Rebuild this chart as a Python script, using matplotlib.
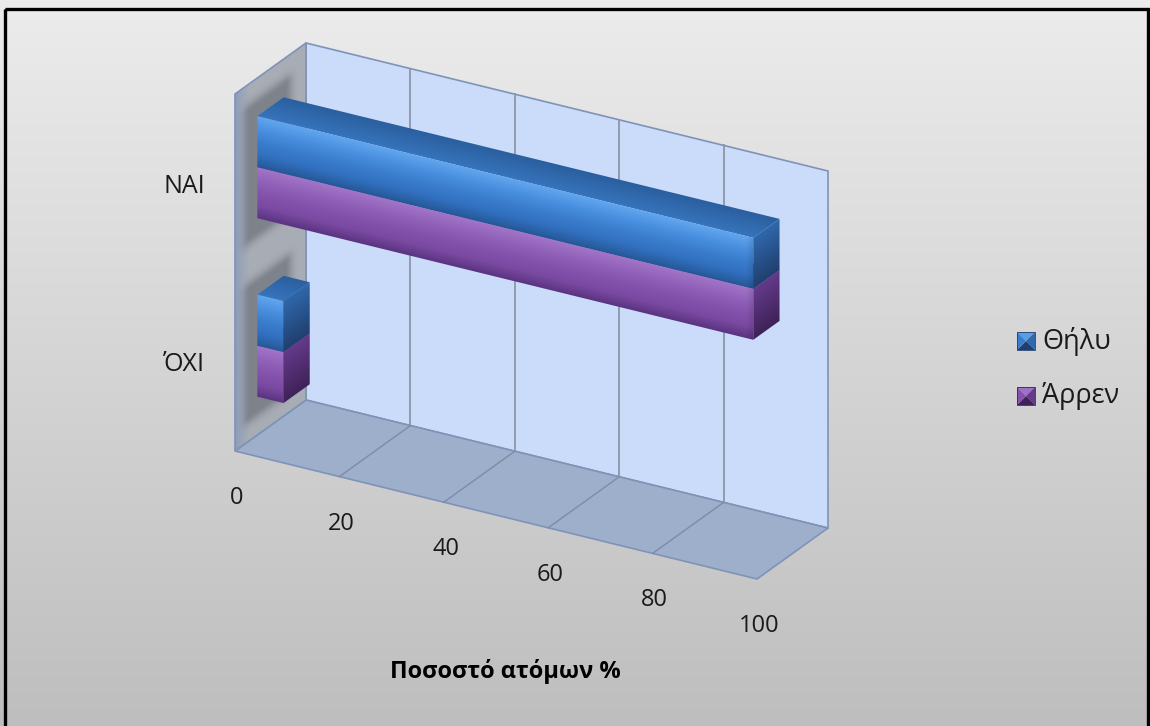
import matplotlib
matplotlib.use('Agg')
import matplotlib.pyplot as plt
from matplotlib.colors import LinearSegmentedColormap, to_rgb
from matplotlib.patches import Polygon, Rectangle
import numpy as np

plt.rcParams['font.family'] = ['Open Sans', 'DejaVu Sans']

categories = ['ΌΧΙ', 'ΝΑΙ']          # bottom to top
series_names = ['Θήλυ', 'Άρρεν']
thilu = [5, 95]
arren = [5, 95]
ticks = [0, 20, 40, 60, 80, 100]
axis_title = 'Ποσοστό ατόμων %'

# oblique projection of (value, depth, height) onto the canvas
origin = np.array([306.0, 400.0])
ex = np.array([5.22, 1.28])     # per value unit
ed = np.array([-71.0, 51.0])    # back (0) -> front (1)
eh = np.array([0.0, -357.0])    # floor (0) -> top (1)


def proj(v, d, h):
    p = origin + v * ex + d * ed + h * eh
    return (p[0], p[1])


def quad(pts, **kw):
    return Polygon([proj(*p) for p in pts], closed=True, **kw)


fig = plt.figure(figsize=(11.5, 7.26), dpi=100)
ax = fig.add_axes([0, 0, 1, 1])
ax.axis('off')


def face(p0, a, b, colfn, zorder):
    """Paint the parallelogram p0 + s*a + t*b (s, t in 0..1) with colours from colfn(s, t)."""
    p0, a, b = np.asarray(p0, float), np.asarray(a, float), np.asarray(b, float)
    corners = np.array([p0, p0 + a, p0 + a + b, p0 + b])
    x0, y0 = np.floor(corners.min(axis=0)) - 1
    x1, y1 = np.ceil(corners.max(axis=0)) + 1
    X, Y = np.meshgrid(np.arange(x0, x1) + 0.5, np.arange(y0, y1) + 0.5)
    inv = np.linalg.inv(np.array([[a[0], b[0]], [a[1], b[1]]]))
    dx, dy = X - p0[0], Y - p0[1]
    s = np.clip(inv[0, 0] * dx + inv[0, 1] * dy, 0, 1)
    t = np.clip(inv[1, 0] * dx + inv[1, 1] * dy, 0, 1)
    im = ax.imshow(colfn(s, t), extent=(x0, x1, y1, y0), aspect='auto',
                   interpolation='bilinear', zorder=zorder)
    clip = Polygon(corners, closed=True, fc='none', ec='none', transform=ax.transData)
    im.set_clip_path(clip)
    return im


def ramp(stops):
    return LinearSegmentedColormap.from_list('r', stops)


# grey gradient background
bg = np.linspace(0.925, 0.745, 256)[:, None]
ax.imshow(np.dstack([bg, bg, bg]), extent=(0, 1150, 726, 0), aspect='auto', zorder=0)
ax.add_patch(Rectangle((5, 9), 1143, 730, fill=False, ec='black', lw=2.4, zorder=20))

edge = '#7f93b8'
vmax = ticks[-1]

# bar geometry: 150% gap width, bars centred in depth
n_series = len(series_names)
band = 1.0 / len(categories)
bar_h = band / (n_series + 1.5)
d_back, d_front = 0.315, 0.685
pairs = []
for ci in range(len(categories)):
    centre = band * (ci + 0.5)
    pairs.append((centre - bar_h * n_series / 2, centre + bar_h * n_series / 2))

# back wall and floor
ax.add_patch(quad([(0, 0, 0), (vmax, 0, 0), (vmax, 0, 1), (0, 0, 1)],
                  fc='#cadcf9', ec=edge, lw=1.2, zorder=1))
ax.add_patch(quad([(0, 0, 0), (vmax, 0, 0), (vmax, 1, 0), (0, 1, 0)],
                  fc='#9dafcb', ec=edge, lw=1.2, zorder=1))


# side wall: grey with a bluish front strip and soft shadows around the bars
def wall_colours(s, t):
    d, h = s, t
    base_back = np.array(to_rgb('#a8adb6'))
    base_front = np.array(to_rgb('#8e9eb8'))
    w = np.clip((d - 0.8) / 0.2, 0, 1)[..., None]
    rgb = base_back + (base_front - base_back) * w
    shade = np.zeros_like(d)
    for lo, hi in pairs:
        dd = np.maximum(np.maximum(d_back - 0.02 - d, d - (d_front + 0.1)), 0) * 87
        dh = np.maximum(np.maximum(lo - 0.035 - h, h - (hi + 0.03)), 0) * 357
        dist = np.hypot(dd, dh)
        shade = np.maximum(shade, 0.45 * np.exp(-(dist / 9.0) ** 2))
    rgb = rgb * (1 - shade[..., None]) + np.array(to_rgb('#4b4f58')) * shade[..., None]
    return np.dstack([rgb, np.ones_like(d)])


face(proj(0, 0, 0), ed, eh, wall_colours, zorder=1)
ax.add_patch(quad([(0, 0, 0), (0, 1, 0), (0, 1, 1), (0, 0, 1)],
                  fc='none', ec=edge, lw=1.2, zorder=2))

for t in ticks[1:-1]:
    ax.plot(*zip(proj(t, 0, 0), proj(t, 0, 1)), color='#8b97a8', lw=1.3, zorder=2)
    ax.plot(*zip(proj(t, 0, 0), proj(t, 1, 0)), color='#7d8ca6', lw=1.0, zorder=2)

# tick labels along the front floor edge
for t in ticks:
    x, y = proj(t, 1, 0)
    ax.text(x + 2, y + 47, str(t), ha='center', va='center', fontsize=17, color='#1a1a1a', zorder=5)

ax.text(505, 672, axis_title, ha='center', va='center', fontsize=17,
        fontweight='bold', color='black', zorder=5)

styles = {
    'Θήλυ': dict(front=['#62a6ee', '#4a90e0', '#3b7dcd', '#3170bf', '#265796'],
                 lid=['#3774bc', '#2a5f9f'], cap=['#2f68ac', '#213f6e'],
                 swatch=('#5a9de6', '#2f68ac', '#213f6e', '#3b7dcd')),
    'Άρρεν': dict(front=['#a275c8', '#9262ba', '#8453ad', '#7a4aa2', '#5a3380'],
                  lid=['#7a4ea2', '#643d8c'], cap=['#643a8a', '#3f2258'],
                  swatch=('#a070c8', '#643a8a', '#3f2258', '#8453ad')),
}


def front_fn(cmap):
    def f(s, t):
        rgba = cmap(t)
        # slight darkening towards the rounded right end
        k = 1 - 0.12 * np.clip((s - 0.985) / 0.015, 0, 1)
        rgba[..., :3] *= k[..., None]
        return rgba
    return f


def along_fn(cmap):
    def f(s, t):
        return cmap(t)
    return f


for ci, cat in enumerate(categories):
    h_lo, h_hi = pairs[ci]
    # lower series first so the upper one covers its lid
    for si, (name, vals) in enumerate(reversed(list(zip(series_names, [thilu, arren])))):
        v = vals[ci]
        h0 = h_lo + si * bar_h
        h1 = h0 + bar_h
        st = styles[name]
        length = v * ex
        depth = (d_back - d_front) * ed
        # top face (front edge lighter)
        face(proj(0, d_front, h1), length, depth, along_fn(ramp(st['lid'])), zorder=4)
        # front face, shaded top to bottom
        face(proj(0, d_front, h1), length, (h1 - h0) * -eh, front_fn(ramp(st['front'])), zorder=4)
        # end cap
        face(proj(v, d_front, h1), depth, (h1 - h0) * -eh, along_fn(ramp(st['cap'])), zorder=4)

    x, y = proj(0, 1, (h_lo + h_hi) / 2)
    ax.text(205, y + 3, cat, ha='right', va='center', fontsize=18, color='#1a1a1a', zorder=5)

# legend with pyramid-style swatches
legend_y = [341, 396]
for name, ly in zip(series_names, legend_y):
    top, right, bottom, left = styles[name]['swatch']
    cx, s = 1026, 9
    c = (cx, ly)
    tl, tr, br, bl = (cx - s, ly - s), (cx + s, ly - s), (cx + s, ly + s), (cx - s, ly + s)
    ax.add_patch(Polygon([tl, tr, c], fc=top, ec='none', zorder=6))
    ax.add_patch(Polygon([tr, br, c], fc=right, ec='none', zorder=6))
    ax.add_patch(Polygon([br, bl, c], fc=bottom, ec='none', zorder=6))
    ax.add_patch(Polygon([bl, tl, c], fc=left, ec='none', zorder=6))
    ax.add_patch(Rectangle((cx - s, ly - s), 2 * s, 2 * s, fill=False, ec=bottom, lw=0.6, zorder=6))
    ax.text(1042, ly, name, ha='left', va='center', fontsize=19.5, color='#1a1a1a', zorder=6)

ax.set_xlim(0, 1150)
ax.set_ylim(726, 0)
fig.savefig('out.png', dpi=100)
